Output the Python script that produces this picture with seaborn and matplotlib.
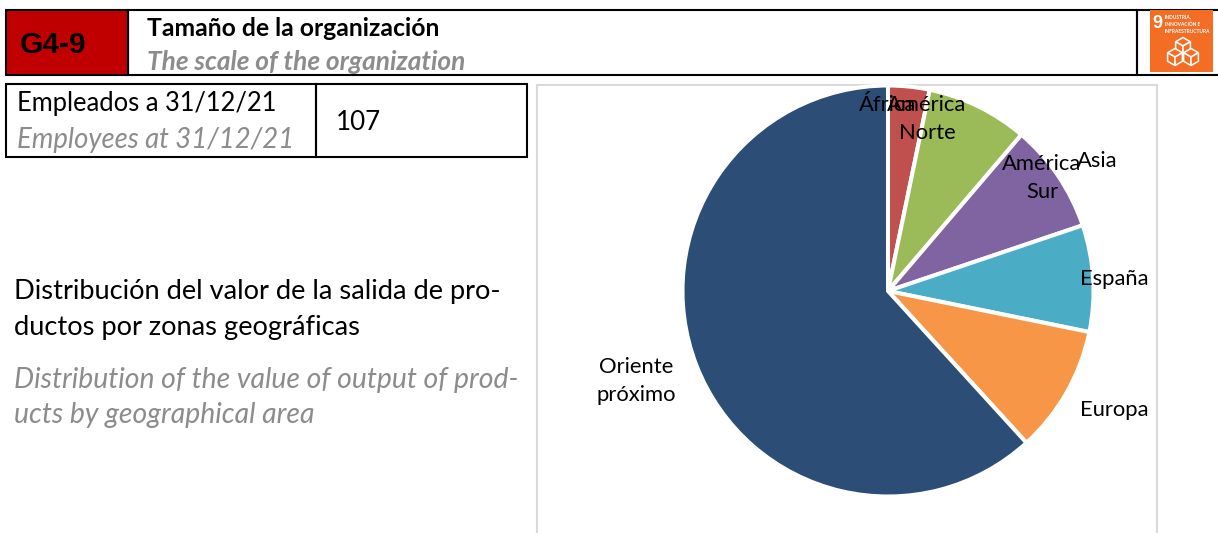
import matplotlib
matplotlib.use('Agg')
import matplotlib.pyplot as plt
from matplotlib.patches import Rectangle, Polygon
import seaborn as sns

# pie data (Africa is a zero slice, only its label shows)
zonas = ['África', 'América\nNorte', 'América\nSur', 'Asia', 'España', 'Europa', 'Oriente\npróximo']
valores = [0, 3.25, 8.0, 8.57, 8.38, 10.03, 61.77]
colores = ['#2C4D75', '#C0504D', '#9BBB59', '#8064A2', '#4BACC6', '#F79646', '#2C4D75']

codigo = 'G4-9'
titulo_es = 'Tamaño de la organización'
titulo_en = 'The scale of the organization'
empleados_es = 'Empleados a 31/12/21'
empleados_en = 'Employees at 31/12/21'
empleados = '107'
texto_es = ['Distribución del valor de la salida de pro-', 'ductos por zonas geográficas']
texto_en = ['Distribution of the value of output of prod-', 'ucts by geographical area']
ods_numero = '9'
ods_texto = 'INDUSTRIA,\nINNOVACIÓN E\nINFRAESTRUCTURA'

H = 533
GRIS = '#8C8C8C'

sns.set_theme(style='white')
plt.rcParams['font.family'] = ['Lato', 'DejaVu Sans']


def caja(ax, x0, y0, x1, y1, color='none', borde='black', lw=1.5):
    # box given in picture pixels, y from the top
    ax.add_patch(Rectangle((x0, H - y1), x1 - x0, y1 - y0, facecolor=color, edgecolor=borde, linewidth=lw))


def texto(ax, x, y, s, **kw):
    kw.setdefault('va', 'center')
    kw.setdefault('color', 'black')
    ax.text(x, H - y, s, **kw)


def cubo(ax, cx, cy, r):
    # little isometric cube for the icon
    dx = r * 0.87
    dy = r * 0.5
    caras = [
        [(cx, cy), (cx + dx, cy - dy), (cx, cy - 2 * dy), (cx - dx, cy - dy)],
        [(cx, cy), (cx - dx, cy - dy), (cx - dx, cy + dy), (cx, cy + 2 * dy)],
        [(cx, cy), (cx + dx, cy - dy), (cx + dx, cy + dy), (cx, cy + 2 * dy)],
    ]
    for cara in caras:
        ax.add_patch(Polygon([(a, H - b) for a, b in cara], facecolor='#F36D25', edgecolor='white', linewidth=1.1))


fig, ax = plt.subplots(figsize=(12.18, 5.33), dpi=100)
fig.subplots_adjust(0, 0, 1, 1)

# chart frame behind the pie
caja(ax, 537, 85, 1157, 560, color='white', borde='#D9D9D9', lw=1.5)

ax.pie(valores, colors=sns.color_palette(colores), startangle=90, counterclock=False,
       center=(888, H - 291), radius=205.5,
       wedgeprops={'edgecolor': 'white', 'linewidth': 2.9})
ax.set_xlim(0, 1218)
ax.set_ylim(0, H)
ax.set_aspect('auto')
ax.axis('off')

# pie labels sit where the source chart left them
pos_etiquetas = [(888, 105), (927, 119), (1042, 178), (1097, 161), (1114, 279), (1114, 410), (636, 381)]
for nombre, (px, py) in zip(zonas, pos_etiquetas):
    texto(ax, px, py, nombre, ha='center', fontsize=15.8, linespacing=1.5)

# header
caja(ax, 6, 10, 128, 75, color='#C00000')
caja(ax, 128, 10, 1137, 75)
caja(ax, 1137, 10, 1222, 75)
texto(ax, 20, 45, codigo, fontsize=21.5, fontweight='bold', family='Liberation Sans')
texto(ax, 147, 29, titulo_es, fontsize=17.8, fontweight='bold')
texto(ax, 147, 62, titulo_en, fontsize=18.9, fontweight='bold', style='italic', color=GRIS)

# employees box
caja(ax, 6, 84, 316, 157)
caja(ax, 316, 84, 527, 157)
texto(ax, 17, 104, empleados_es, fontsize=18.4)
texto(ax, 17, 140, empleados_en, fontsize=19.8, style='italic', color=GRIS)
texto(ax, 336, 122, empleados, fontsize=18.7)

# side text
for s, py in zip(texto_es, [291, 327]):
    texto(ax, 14, py, s, fontsize=19.6)
for s, py in zip(texto_en, [380, 415]):
    texto(ax, 14, py, s, fontsize=20.4, style='italic', color=GRIS)

# SDG icon
ax.add_patch(Rectangle((1150, H - 72), 63, 62, facecolor='#F36D25', edgecolor='none'))
texto(ax, 1152, 23, ods_numero, fontsize=13, fontweight='bold', color='white', family='Liberation Sans')
texto(ax, 1165, 24, ods_texto, fontsize=3.5, fontweight='bold', color='white', linespacing=1.6)
cubo(ax, 1183, 46, 8.5)
cubo(ax, 1175, 57, 8.5)
cubo(ax, 1191, 57, 8.5)

plt.savefig('out.png', dpi=100)
